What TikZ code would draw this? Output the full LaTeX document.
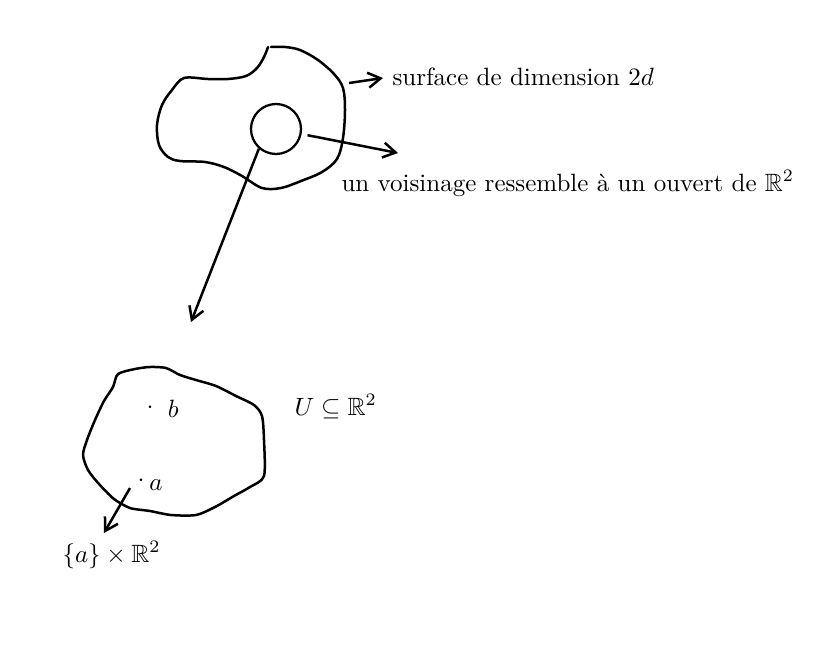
\documentclass[tikz,border=0pt]{standalone}
\usepackage{amsmath,amssymb}
\usepackage{tikz}
\usetikzlibrary{arrows.meta, positioning}
\newlength{\pxunit}
\setlength{\pxunit}{0.40pt}
\tikzset{
    % Hand-drawn outline of a region
    blob/.style={
        draw=black, line width=1pt,
        line join=round, line cap=round,
    },
    % Small neighbourhood (circle)
    voisin/.style={
        draw=black, line width=0.9pt,
        circle,
        minimum size=50\pxunit,
        inner sep=0pt,
    },
    % Arrows with open barb tips
    maparrow/.style={
        -{Straight Barb[length=5pt,width=6pt]},
        line width=1pt,
    },
    % Text labels
    txtlabel/.style={
        anchor=base west,
        inner sep=0pt,
        font=\normalsize,
    },
}
\newcommand{\ptdot}{\raisebox{1.4pt}{$\cdot$}}

\begin{document}
\begin{tikzpicture}[x=\pxunit, y=-\pxunit]

\useasboundingbox (0,0) rectangle (819,660);

% =========================================================================
% SURFACE (top)
% =========================================================================
\draw[blob] plot[smooth, tension=0.55] coordinates {
    (271,47) (285,47) (300,50) (318,60) (334,74) (343,88) (345,110)
    (343,138) (337,159) (322,172) (301,181) (281,188) (262,188)
    (242,176) (224,167) (205,162) (180,161) (168,157) (159,145)
    (157,125) (162,105) (172,90) (184,78) (208,79) (228,79) (246,76)
    (257,68) (264,57) (268,47)};

\node[voisin] (nbhd) at (276,129) {};

% --- Labels ---
\node[txtlabel] (surf) at (392,85) {surface de dimension $2d$};
\node[txtlabel] (ouvert) at (341,191) {un voisinage ressemble à un ouvert de $\mathbb{R}^2$};

% =========================================================================
% OPEN SET U (bottom)
% =========================================================================
\draw[blob] plot[smooth cycle, tension=0.45] coordinates {
    (118,374) (135,369) (150,367) (166,368) (180,375) (196,380)
    (216,386) (236,396) (254,405) (262,416) (264,440) (264,476)
    (250,487) (234,496) (215,507) (196,515) (171,515) (150,511)
    (130,508) (114,499) (99,484) (88,470) (83,455) (87,440)
    (95,420) (104,401) (113,387)};

\node[txtlabel] (ptb) at (146,417) {\ptdot\hspace{5.8pt}$b$};
\node[txtlabel] (pta) at (137,490) {\ptdot\hspace{2pt}$a$};
\node[txtlabel] (uset) at (294,415) {$U \subseteq \mathbb{R}^2$};
\node[txtlabel] (fibre) at (62,562) {$\{a\} \times \mathbb{R}^2$};

% =========================================================================
% ARROWS
% =========================================================================
\coordinate (surfstart) at (349,83);
\coordinate (surftip) at (383,78);
\coordinate (ouverttip) at (398,153);
\coordinate (downtip) at (191,322);
\coordinate (fibrestart) at (130,488);
\coordinate (fibretip) at (104,533);

\draw[maparrow] (surfstart) -- (surftip);
\draw[maparrow, shorten <=6\pxunit] (nbhd) -- (ouverttip);
\draw[maparrow] (nbhd.229) -- (downtip);
\draw[maparrow] (fibrestart) -- (fibretip);

\end{tikzpicture}
\end{document}
